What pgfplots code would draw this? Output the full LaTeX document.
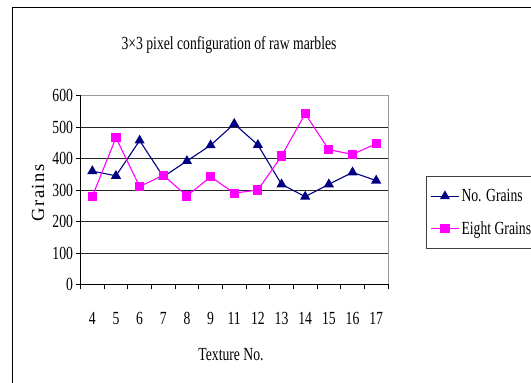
\documentclass[border=0pt]{standalone}
\usepackage{fontspec}
\setmainfont{Liberation Serif}[FakeStretch=0.74]
\newfontfamily\yfont{Liberation Serif}[LetterSpace=8]
\usepackage{pgfplots}
\usepackage{pgfplotstable}
\pgfplotsset{compat=1.18}

\definecolor{navyline}{RGB}{0,0,128}
\definecolor{pinkline}{RGB}{255,0,255}

% texture index, texture number, grain counts
\pgfplotstableread{
idx tex no eight
0  4  360 280
1  5  345 466
2  6  457 311
3  7  342 347
4  8  392 281
5  9  442 342
6  11 510 290
7  12 443 300
8  13 318 408
9  14 279 542
10 15 318 428
11 16 356 413
12 17 330 447
}\grains

\begin{document}
\begin{tikzpicture}
\useasboundingbox (0pt,0pt) rectangle (531pt,383pt);
\clip (0pt,0pt) rectangle (531pt,383pt);
\draw[black, line width=1pt] (12.5pt,-5pt) -- (12.5pt,375pt) -- (545pt,375pt);
\begin{axis}[
  at={(80.5pt,98.5pt)}, anchor=south west,
  scale only axis, width=307.5pt, height=189pt,
  font=\fontsize{18.5}{22}\selectfont,
  /pgf/number format/assume math mode=true,
  xmin=-0.5, xmax=12.5, ymin=0, ymax=600,
  xtick={0,...,12},
  xticklabels={4,5,6,7,8,9,11,12,13,14,15,16,17},
  minor xtick={-0.5,0.5,...,12.5},
  major x tick style={draw=none},
  minor tick length=5pt,
  major tick length=4pt,
  ytick={0,100,...,600},
  tick align=outside,
  tick style={black, line width=0.8pt},
  xticklabel style={yshift=-20pt},
  ymajorgrids,
  grid style={black!85, line width=0.8pt},
  axis x line*=bottom, axis y line*=left,
  axis line style={black, line width=0.8pt},
  clip=false,
  legend style={
    at={(1.1236,0.574)}, anchor=north west,
    draw=black!75, line width=0.8pt,
    font=\fontsize{18.5}{22}\selectfont,
    row sep=14pt, inner xsep=4pt, inner ysep=11pt,
    cells={anchor=west},
  },
  legend image code/.code={
    \draw[mark repeat=2,mark phase=2,#1]
      plot coordinates {(0pt,0pt) (14pt,0pt) (28pt,0pt)};
  },
]
\draw[black!40, line width=0.8pt] (axis cs:-0.5,600) -- (axis cs:12.5,600) -- (axis cs:12.5,0);
\addplot[navyline, line width=1.1pt, mark=triangle*, mark size=4.8pt,
  mark options={solid, fill=navyline, draw=navyline}]
  table[x=idx, y=no] {\grains};
\addlegendentry{No. Grains}
\addplot[pinkline, line width=1.1pt, mark=square*, mark size=4pt,
  mark options={solid, fill=pinkline, draw=pinkline}]
  table[x=idx, y=eight] {\grains};
\addlegendentry{Eight Grains}
\end{axis}
\node[font=\fontsize{18.5}{22}\selectfont] at (229pt,338pt) {3×3 pixel configuration of raw marbles};
\node[font=\fontsize{18.5}{22}\selectfont] at (231pt,28pt) {Texture No.};
\node[rotate=90, font=\fontsize{18.5}{20}\yfont] at (38pt,190pt) {Grains};
\end{tikzpicture}
\end{document}
